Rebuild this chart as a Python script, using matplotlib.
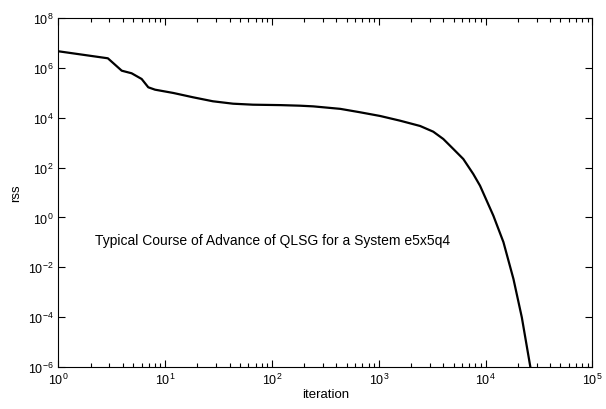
import numpy as np
import matplotlib
matplotlib.use('Agg')
import matplotlib.pyplot as plt
from matplotlib.ticker import FixedLocator, LogLocator, LogFormatterMathtext, NullLocator

plt.rcParams['font.family'] = ['Liberation Sans', 'DejaVu Sans']
plt.rcParams['mathtext.fontset'] = 'custom'
plt.rcParams['mathtext.rm'] = 'Liberation Sans'
plt.rcParams['mathtext.it'] = 'Liberation Sans'

# residual sum of squares vs iteration
iterations = [1, 2.90, 3.91, 4.84, 6.01, 6.93, 8.02, 11.9, 18.2, 27.9,
              43.1, 66.2, 120, 182, 243, 435, 668, 1028, 1581, 2432, 3230,
              4010, 4980, 6170, 7650, 8850, 11800, 14660, 18200, 21800,
              26200]
rss_log10 = [6.664, 6.383, 5.886, 5.782, 5.553, 5.220, 5.124, 4.992, 4.819,
             4.659, 4.562, 4.522, 4.505, 4.482, 4.455, 4.355, 4.217, 4.069,
             3.880, 3.668, 3.439, 3.146, 2.745, 2.344, 1.743, 1.273, 0.07,
             -0.99, -2.47, -4.01, -6.0]
rss = 10.0 ** np.array(rss_log10)

x_ticks = [1e0, 1e1, 1e2, 1e3, 1e4, 1e5]
y_ticks = [1e-6, 1e-4, 1e-2, 1e0, 1e2, 1e4, 1e6, 1e8]

note = "Typical Course of Advance of QLSG for a System e5x5q4"

fig = plt.figure(figsize=(6.06, 4.10), dpi=100)
ax = fig.add_axes([0.0965, 0.1024, 0.8812, 0.8513])

ax.loglog(iterations, rss, color='black', linewidth=1.6)

ax.set_xlim(1, 1e5)
ax.set_ylim(1e-6, 1e8)

ax.xaxis.set_major_locator(FixedLocator(x_ticks))
ax.xaxis.set_minor_locator(LogLocator(base=10, subs=np.arange(2, 10), numticks=20))
ax.yaxis.set_major_locator(FixedLocator(y_ticks))
ax.yaxis.set_minor_locator(NullLocator())
ax.xaxis.set_major_formatter(LogFormatterMathtext())
ax.yaxis.set_major_formatter(LogFormatterMathtext())
ax.xaxis.set_minor_formatter(plt.NullFormatter())

ax.tick_params(which='both', direction='in', top=True, right=True,
               labelsize=9, width=0.8)
ax.tick_params(which='major', length=5)
ax.tick_params(which='minor', length=3)
for s in ax.spines.values():
    s.set_linewidth(0.8)

ax.set_xlabel('iteration', fontsize=9.5, labelpad=1)
ax.set_ylabel('rss', fontsize=9.5, labelpad=4)

ax.text(2.2, 0.125, note, fontsize=10, va='center', ha='left')

fig.savefig('out.png', dpi=100)
